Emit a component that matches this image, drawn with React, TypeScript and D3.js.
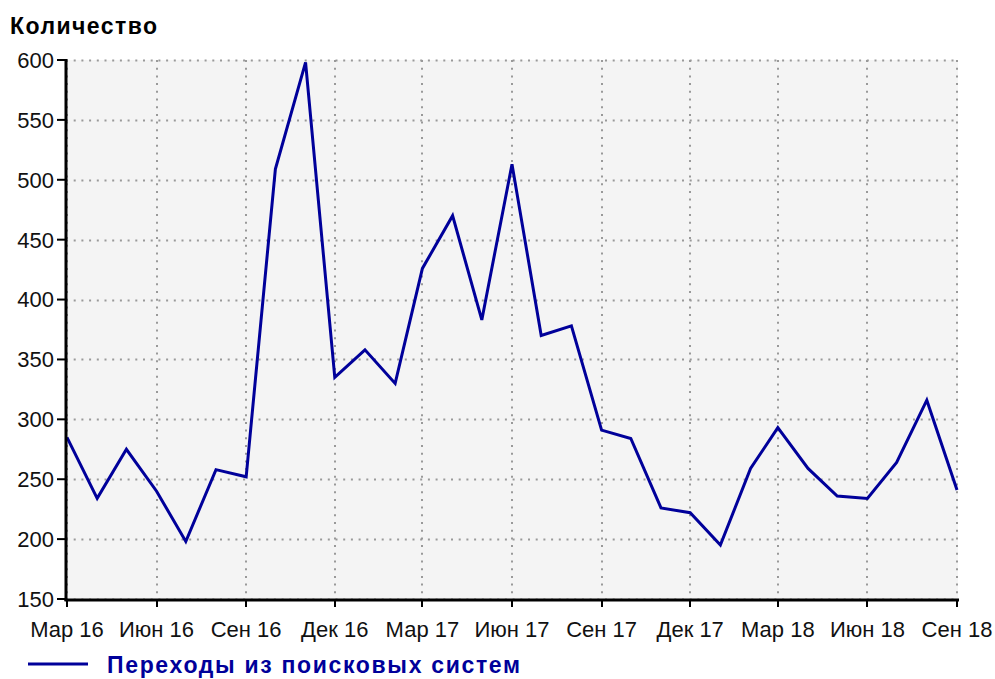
import { useMemo } from "react";
import * as d3 from "d3";

// monthly values, Mar 2016 .. Sep 2018
const startMonth = new Date(2016, 2, 1);
const values = [
  285, 234, 275, 240, 198, 258, 252, 509, 598, 335, 358, 330, 426, 470, 383,
  513, 370, 378, 291, 284, 226, 222, 195, 259, 293, 259, 236, 234, 264, 316,
  241,
];
const tickLabels = [
  "Мар 16", "Июн 16", "Сен 16", "Дек 16", "Мар 17", "Июн 17",
  "Сен 17", "Дек 17", "Мар 18", "Июн 18", "Сен 18",
];
const yTicks = [150, 200, 250, 300, 350, 400, 450, 500, 550, 600];
const yTitle = "Количество";
const seriesName = "Переходы из поисковых систем";

const dims = { width: 995, height: 679, left: 66, right: 958, top: 60, bottom: 599 };
const FONT = "'Liberation Sans', Arial, sans-serif";
const BLUE = "#00009a";

export default function App() {
  const data = useMemo(
    () => values.map((v, i) => ({ date: d3.timeMonth.offset(startMonth, i), value: v })),
    []
  );

  const xScale = useMemo(
    () =>
      d3
        .scaleTime()
        .domain([data[0].date, data[data.length - 1].date])
        .range([dims.left + 1, dims.right - 1]),
    [data]
  );
  const yScale = useMemo(
    () => d3.scaleLinear().domain([150, 600]).range([dims.bottom, dims.top]),
    []
  );

  const xTicks = tickLabels.map((label, i) => ({
    label,
    date: d3.timeMonth.offset(startMonth, i * 3),
  }));

  const line = d3
    .line<{ date: Date; value: number }>()
    .x((d) => xScale(d.date))
    .y((d) => yScale(d.value));

  return (
    <svg
      width={dims.width}
      height={dims.height}
      style={{ position: "absolute", left: 0, top: 0, background: "#fff" }}
      fontFamily={FONT}
    >
      <rect
        x={dims.left}
        y={dims.top}
        width={dims.right - dims.left}
        height={dims.bottom - dims.top}
        fill="#f4f4f4"
      />
      {/* grid */}
      {yTicks.map((t) => (
        <line
          key={"gy" + t}
          x1={dims.left}
          x2={dims.right}
          y1={Math.round(yScale(t)) + 0.5}
          y2={Math.round(yScale(t)) + 0.5}
          stroke="#999"
          strokeWidth={2}
          strokeDasharray="2 5.7"
        />
      ))}
      {xTicks.map((t) => (
        <line
          key={"gx" + t.label}
          x1={Math.round(xScale(t.date))}
          x2={Math.round(xScale(t.date))}
          y1={dims.top}
          y2={dims.bottom}
          stroke="#999"
          strokeWidth={2}
          strokeDasharray="2 5.7"
        />
      ))}
      {/* series */}
      <path d={line(data) ?? ""} fill="none" stroke={BLUE} strokeWidth={3} strokeLinejoin="miter" />
      {/* axes */}
      <line x1={dims.left} x2={dims.left} y1={dims.top - 1} y2={dims.bottom + 2} stroke="#000" strokeWidth={3} />
      <line x1={dims.left - 1.5} x2={dims.right + 1} y1={dims.bottom + 1} y2={dims.bottom + 1} stroke="#000" strokeWidth={3} />
      {yTicks.map((t) => (
        <g key={"ty" + t}>
          <line x1={dims.left - 9} x2={dims.left} y1={yScale(t)} y2={yScale(t)} stroke="#000" strokeWidth={2} />
          <text
            x={dims.left - 12}
            y={yScale(t)}
            dy="0.36em"
            textAnchor="end"
            fontSize={22}
            fill="#111"
          >
            {t}
          </text>
        </g>
      ))}
      {xTicks.map((t) => (
        <g key={"tx" + t.label}>
          <line
            x1={Math.round(xScale(t.date))}
            x2={Math.round(xScale(t.date))}
            y1={dims.bottom}
            y2={dims.bottom + 8}
            stroke="#000"
            strokeWidth={2}
          />
          <text x={xScale(t.date)} y={637} textAnchor="middle" fontSize={22} fill="#111">
            {t.label}
          </text>
        </g>
      ))}
      {/* title */}
      <text x={10} y={34} fontSize={23} fontWeight="bold" fill="#000" textLength={147}>
        {yTitle}
      </text>
      {/* legend */}
      <line x1={28} x2={88} y1={664} y2={664} stroke={BLUE} strokeWidth={3} />
      <text x={107} y={673} fontSize={23} fontWeight="bold" fill={BLUE} textLength={413}>
        {seriesName}
      </text>
    </svg>
  );
}
